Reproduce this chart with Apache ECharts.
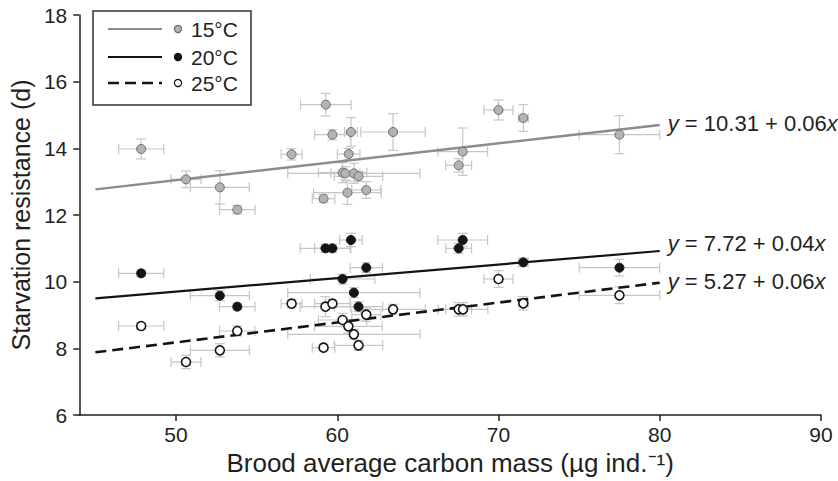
<!DOCTYPE html>
<html>
<head>
<meta charset="utf-8">
<script src="https://cdn.jsdelivr.net/npm/echarts@6/dist/echarts.min.js"></script>
<style>html,body{margin:0;padding:0;background:#fff}#c{width:838px;height:481px}</style>
</head>
<body>
<div id="c"></div>
<script>
const xTicks = [50, 60, 70, 80, 90];
const yTicks = [6, 8, 10, 12, 14, 16, 18];
const seriesNames = ['15°C', '20°C', '25°C'];
// [x, y, xError, yError]
const data15 = [
  [47.84, 13.98, 1.4, 0.3], [50.62, 13.07, 0.93, 0.25], [52.72, 12.83, 1.83, 0.5],
  [53.8, 12.16, 1.1, 0.12], [57.17, 13.82, 0.65, 0.17], [59.15, 12.49, 0.7, 0.12],
  [59.29, 15.31, 1.57, 0.34], [59.7, 14.41, 1.1, 0.15], [60.33, 13.27, 1.5, 0.3],
  [60.5, 13.25, 0.9, 0.2], [60.63, 12.67, 2.1, 0.35], [60.71, 13.83, 0.7, 0.17],
  [60.85, 14.49, 0.4, 0.43], [61.03, 13.25, 4.1, 0.3], [61.32, 13.16, 1.5, 0.15],
  [61.8, 12.75, 0.9, 0.25], [63.46, 14.49, 2.0, 0.55], [67.53, 13.49, 0.8, 0.2],
  [67.78, 13.9, 1.54, 0.71], [70.0, 15.15, 0.9, 0.3], [71.54, 14.91, 0.3, 0.4],
  [77.5, 14.41, 2.5, 0.57]
];
const data20 = [
  [47.84, 10.25, 1.4, 0.1], [52.72, 9.58, 1.83, 0.15], [53.8, 9.25, 1.1, 0.1],
  [59.27, 11.0, 1.57, 0.12], [59.7, 11.0, 1.1, 0.12], [60.33, 10.08, 2.0, 0.15],
  [60.85, 11.25, 0.7, 0.2], [61.03, 9.67, 4.1, 0.15], [61.32, 9.25, 1.5, 0.15],
  [61.8, 10.42, 1.0, 0.15], [67.53, 11.0, 0.8, 0.15], [67.78, 11.25, 1.54, 0.2],
  [71.54, 10.58, 0.3, 0.12], [77.5, 10.42, 2.5, 0.25]
];
const data25 = [
  [47.84, 8.67, 1.4, 0.1], [50.62, 7.59, 0.93, 0.2], [52.72, 7.94, 1.83, 0.2],
  [53.8, 8.52, 1.1, 0.15], [57.17, 9.34, 0.65, 0.12], [59.15, 8.02, 0.7, 0.1],
  [59.27, 9.25, 1.57, 0.3], [59.7, 9.34, 1.1, 0.12], [60.33, 8.85, 1.5, 0.2],
  [60.69, 8.66, 2.1, 0.2], [61.03, 8.42, 4.1, 0.15], [61.32, 8.09, 1.5, 0.15],
  [61.8, 9.01, 0.9, 0.2], [63.46, 9.17, 2.0, 0.15], [67.53, 9.17, 0.8, 0.2],
  [67.8, 9.17, 1.54, 0.2], [70.0, 10.08, 0.9, 0.25], [71.54, 9.35, 0.3, 0.2],
  [77.5, 9.59, 2.5, 0.25]
];
const fit15 = [[45, 12.77], [80, 14.7]];
const fit20 = [[45, 9.5], [80, 10.92]];
const fit25 = [[45, 7.88], [80, 9.97]];
const eqText = ['10.31 + 0.06', '7.72 + 0.04', '5.27 + 0.06'];

const FONT = '"Liberation Sans", Arial, sans-serif';
const TXT = '#231f20';

function renderErr(params, api) {
  const x = api.value(0), y = api.value(1), xe = api.value(2), ye = api.value(3);
  const l = api.coord([x - xe, y]), r = api.coord([x + xe, y]);
  const t = api.coord([x, y + ye]), b = api.coord([x, y - ye]);
  const cap = 5;
  const st = { stroke: '#c6c6c6', lineWidth: 1.2, fill: null };
  const ln = (x1, y1, x2, y2) => ({ type: 'line', shape: { x1, y1, x2, y2 }, style: st, silent: true });
  return {
    type: 'group',
    children: [
      ln(l[0], l[1], r[0], r[1]),
      ln(t[0], t[1], b[0], b[1]),
      ln(l[0], l[1] - cap, l[0], l[1] + cap),
      ln(r[0], r[1] - cap, r[0], r[1] + cap),
      ln(t[0] - cap, t[1], t[0] + cap, t[1]),
      ln(b[0] - cap, b[1], b[0] + cap, b[1])
    ]
  };
}

function errSeries(d) {
  return { type: 'custom', renderItem: renderErr, data: d, encode: { x: 0, y: 1 }, z: 1, silent: true };
}
function eqLabel(i, dy) {
  return {
    show: true,
    formatter: '{i|y} = ' + eqText[i] + '{i|x}',
    distance: 8,
    offset: [0, dy],
    fontFamily: FONT, fontSize: 22, color: TXT,
    rich: { i: { fontStyle: 'italic', fontFamily: FONT, fontSize: 22, color: TXT } }
  };
}
function fitSeries(d, color, type, width, i, dy) {
  return {
    type: 'line', data: d, symbol: 'none', z: 2, silent: true,
    lineStyle: { color: color, type: type, width: width },
    endLabel: eqLabel(i, dy)
  };
}
const markerStyles = [
  { color: '#b3b3b3', borderColor: '#6e6e6e', borderWidth: 1, opacity: 1 },
  { color: '#141414', borderColor: '#141414', borderWidth: 1, opacity: 1 },
  { color: '#ffffff', borderColor: '#141414', borderWidth: 1.6, opacity: 1 }
];
function ptSeries(d, i) {
  return {
    type: 'scatter', name: seriesNames[i], data: d.map(p => [p[0], p[1]]),
    symbol: 'circle', symbolSize: 9, z: 3, itemStyle: markerStyles[i],
    emphasis: { disabled: true }
  };
}

const legendRows = [29, 57, 83];
const legendLineColors = ['#8c8c8c', '#141414', '#141414'];
const legendGraphics = [{
  type: 'rect', shape: { x: 93, y: 11, width: 158, height: 94 },
  style: { fill: '#fff', stroke: '#333', lineWidth: 1.5 }, z: 100
}];
seriesNames.forEach((n, i) => {
  const y = legendRows[i];
  legendGraphics.push({
    type: 'line', shape: { x1: 108, y1: y, x2: 162, y2: y }, z: 101,
    style: { stroke: legendLineColors[i], lineWidth: i === 2 ? 2.5 : 2, lineDash: i === 2 ? [11, 6] : null }
  });
  legendGraphics.push({
    type: 'circle', shape: { cx: 178, cy: y, r: 3.6 }, z: 101,
    style: { fill: markerStyles[i].color, stroke: markerStyles[i].borderColor, lineWidth: 1.2 }
  });
  legendGraphics.push({
    type: 'text', x: 191, y: y, z: 101,
    style: { text: n, font: '21px ' + FONT, fill: TXT, verticalAlign: 'middle', align: 'left' }
  });
});

const chart = echarts.init(document.getElementById('c'), null, { renderer: 'svg' });
chart.setOption({
  animation: false,
  backgroundColor: '#fff',
  grid: { left: 75, right: 17, top: 15, bottom: 66, containLabel: false },
  xAxis: {
    type: 'value', min: 44, max: 90,
    name: 'Brood average carbon mass (µg ind.⁻¹)', nameLocation: 'middle', nameGap: 35,
    nameTextStyle: { fontFamily: FONT, fontSize: 26, color: TXT },
    axisLine: { lineStyle: { color: TXT, width: 1.5 } },
    axisTick: { show: true, length: 6, lineStyle: { color: TXT, width: 1.5 }, customValues: xTicks },
    axisLabel: { fontFamily: FONT, fontSize: 21, color: TXT, margin: 9, customValues: xTicks },
    splitLine: { show: false }
  },
  yAxis: {
    type: 'value', min: 6, max: 18, interval: 2,
    name: 'Starvation resistance (d)', nameLocation: 'middle', nameGap: 39,
    nameTextStyle: { fontFamily: FONT, fontSize: 25, color: TXT },
    axisLine: { show: true, lineStyle: { color: TXT, width: 1.5 } },
    axisTick: { show: true, length: 6, lineStyle: { color: TXT, width: 1.5 }, customValues: yTicks },
    axisLabel: { fontFamily: FONT, fontSize: 21, color: TXT, margin: 12, customValues: yTicks },
    splitLine: { show: false }
  },
  series: [
    errSeries(data15), errSeries(data20), errSeries(data25),
    fitSeries(fit15, '#8c8c8c', 'solid', 2.4, 0, -2),
    fitSeries(fit20, '#141414', 'solid', 2.2, 1, -8),
    fitSeries(fit25, '#141414', [11, 6], 2.6, 2, -1),
    ptSeries(data15, 0), ptSeries(data20, 1), ptSeries(data25, 2)
  ],
  graphic: legendGraphics
});
</script>
</body>
</html>
